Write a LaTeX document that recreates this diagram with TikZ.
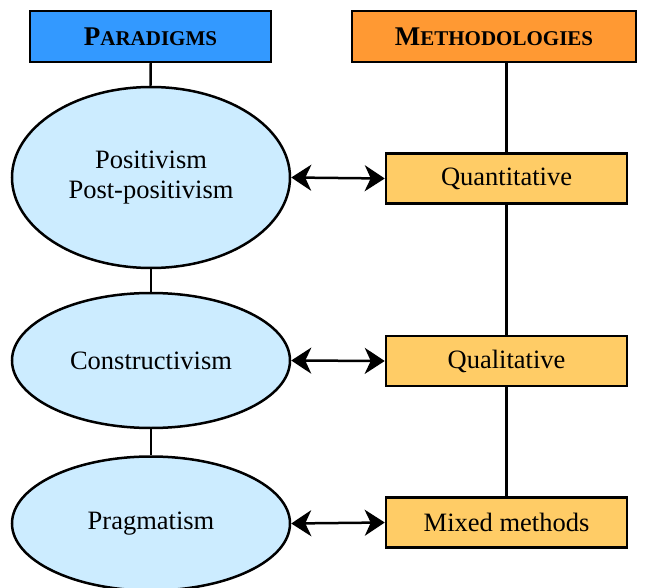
\documentclass[tikz,border=0pt]{standalone}
\usepackage{fontspec}
\setmainfont{Liberation Serif}
\usetikzlibrary{arrows.meta,shapes.geometric}
\definecolor{hdrblue}{HTML}{3399FF}
\definecolor{hdrorange}{HTML}{FF9933}
\definecolor{methfill}{HTML}{FFCC66}
\definecolor{parfill}{HTML}{CCECFF}
\begin{document}
\begin{tikzpicture}[x=1pt,y=-1pt,
  every node/.style={font=\fontsize{26.5}{30.5}\selectfont},
  header/.style={draw=black,line width=2.5pt,minimum width=241pt,minimum height=51pt,inner sep=0pt},
  method/.style={draw=black,line width=2.5pt,fill=methfill,minimum width=241pt,minimum height=50pt,inner sep=0pt},
  paradigm/.style={draw=black,line width=2.5pt,fill=parfill,ellipse,inner sep=0pt},
  link/.style={line width=2.5pt},
  biarrow/.style={line width=2.5pt,{Stealth[length=20pt,width=26pt,inset=6pt]}-{Stealth[length=20pt,width=26pt,inset=6pt]}}]
\useasboundingbox (0,0) rectangle (648,588);
% column headers
\node[header,fill=hdrblue] (par) at (150.5,36.5) {\textbf{{\fontsize{27}{30}\selectfont P}{\fontsize{21}{30}\selectfont ARADIGMS}}};
\node[header,fill=hdrorange,minimum width=284pt] (met) at (494,36.5) {\textbf{{\fontsize{27}{30}\selectfont M}{\fontsize{21}{30}\selectfont ETHODOLOGIES}}};
% paradigms (ellipses)
\node[paradigm,minimum width=278pt,minimum height=181pt,align=center] (pos) at (151,177.5) {Positivism\\Post-positivism};
\node[paradigm,minimum width=278pt,minimum height=135pt] (con) at (151,360.5) {Constructivism};
\node[paradigm,minimum width=278pt,minimum height=134pt] (pra) at (151,523.5) {Pragmatism};
% methodologies
\node[method] (qua) at (506.5,178.5) {\raisebox{-3pt}{Quantitative}};
\node[method] (qul) at (506.5,361) {Qualitative};
\node[method] (mix) at (506.5,522.5) {Mixed methods};
% vertical links
\draw[link] (par) -- (pos);
\draw[link] (pos) -- (con);
\draw[link] (con) -- (pra);
\draw[link] (qua.north) -- (qua.north |- met.south);
\draw[link] (qua) -- (qul);
\draw[link] (qul) -- (mix);
% paradigm <-> methodology
\draw[biarrow] (pos.east) -- (qua.west);
\draw[biarrow] (con.east) -- (qul.west);
\draw[biarrow] (pra.east) -- (mix.west);
\end{tikzpicture}
\end{document}
